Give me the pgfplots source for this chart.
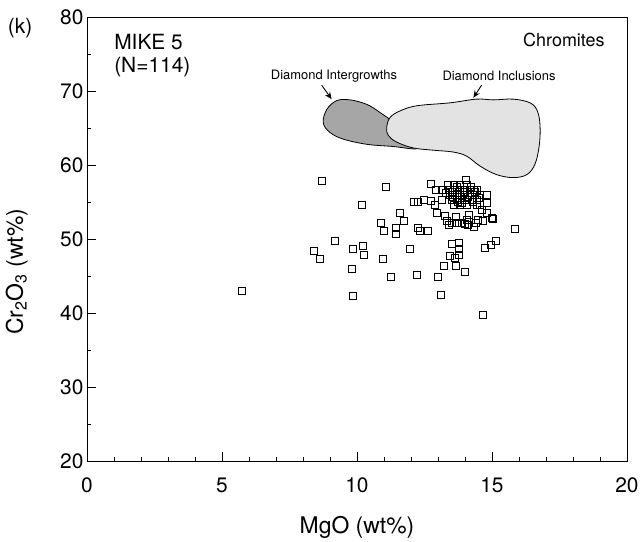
\documentclass[border=0pt]{standalone}
\usepackage{pgfplots}
\pgfplotsset{compat=1.18}
\usepackage{fontspec}
\setmainfont{TeX Gyre Heros}
\usetikzlibrary{arrows.meta}

\pgfplotstableread{
x y
5.72 43.0
8.70 57.8
10.17 54.6
9.19 49.7
8.41 48.4
8.62 47.3
9.86 48.7
10.21 49.1
10.27 47.9
9.80 45.9
9.83 42.3
11.06 57.0
12.73 57.4
12.91 56.6
12.09 55.0
12.24 55.0
12.46 55.3
12.74 55.2
12.89 54.6
11.57 53.5
11.74 52.5
10.89 52.2
10.98 51.1
11.44 51.5
11.44 50.7
12.24 51.5
12.33 51.1
12.64 51.1
15.83 51.4
14.74 48.8
14.96 49.2
15.15 49.8
11.94 48.7
10.95 47.3
13.51 49.4
13.79 49.5
13.79 48.7
13.79 47.9
13.63 47.4
13.44 47.7
13.22 46.4
13.67 46.4
14.00 45.5
11.26 44.9
12.23 45.2
13.01 44.9
13.11 42.5
14.68 39.7
13.26 53.1
13.32 52.4
13.51 52.2
13.69 52.2
13.88 52.2
14.06 52.6
14.12 51.95
14.31 51.7
14.49 52.6
14.80 53.5
15.05 52.7
14.62 54.0
14.80 54.9
14.99 52.9
14.68 52.4
14.02 58.05
13.38 57.37
13.57 57.37
13.81 57.37
14.06 57.37
13.44 56.69
13.63 56.69
13.81 56.69
14.00 56.69
14.19 56.69
14.31 56.69
14.43 56.69
13.44 56.02
13.63 56.02
13.81 56.02
14.00 56.02
14.19 56.02
14.37 56.02
14.56 56.02
14.80 56.02
13.51 55.34
13.69 55.34
13.88 55.34
14.06 55.34
14.25 55.34
14.43 55.34
13.57 54.66
13.81 54.66
14.06 54.66
14.43 54.66
14.56 54.66
13.14 56.7
13.14 55.3
13.70 57.0
13.95 56.35
14.10 55.7
13.55 55.7
14.30 55.0
13.90 54.9
14.50 55.6
14.20 57.1
13.30 56.3
13.75 55.0
14.35 56.4
13.50 56.35
13.65 53.0
14.15 53.3
14.00 52.0
13.40 51.9
14.40 52.2
12.95 53.5
}\mikefive

\begin{document}
\begin{tikzpicture}
\begin{axis}[
  scale only axis, width=540bp, height=444bp,
  xmin=0, xmax=20, ymin=20, ymax=80,
  xtick={0,5,10,15,20}, minor x tick num=4,
  ytick={20,30,...,80}, minor y tick num=1,
  tick align=inside, xtick pos=bottom, ytick pos=left,
  major tick length=9bp, minor tick length=4bp,
  tick style={black, line width=0.6bp},
  axis line style={line width=0.8bp},
  /pgf/number format/assume math mode=true,
  ticklabel style={font=\fontsize{21}{21}\selectfont},
  xticklabel style={yshift=-13bp},
  xlabel={MgO (wt\%)}, ylabel={Cr\textsubscript{2}O\textsubscript{3} (wt\%)},
  label style={font=\fontsize{23}{23}\selectfont},
  xlabel style={at={(axis description cs:0.5,-0.149)}, anchor=center},
  ylabel style={at={(axis description cs:-0.13,0.426)}, anchor=center},
  clip=false,
]
% Diamond Intergrowths field
\addplot[smooth cycle, tension=0.6, draw=black, line width=0.8bp, fill=black!35] coordinates {
 (8.75,65.7) (8.88,67.5) (9.25,68.7) (9.74,68.8) (10.36,68.2) (10.85,67.1)
 (11.4,65.6) (11.95,63.3) (12.2,62.2) (11.34,62.5) (10.36,62.8) (9.49,63.5) (9.0,64.4)};
% Diamond Inclusions field
\addplot[smooth cycle, tension=0.6, draw=black, line width=0.8bp, fill=black!11] coordinates {
 (11.10,65.05) (11.22,66.4) (11.59,67.3) (12.21,68.0) (13.44,68.4) (14.43,68.9)
 (15.05,68.8) (15.79,68.9) (16.41,68.4) (16.68,67.3) (16.78,65.3) (16.75,62.6)
 (16.59,60.1) (16.29,58.7) (15.79,58.3) (15.17,58.7) (14.56,59.85) (14.06,61.2)
 (13.57,61.75) (12.83,62.0) (12.09,62.3) (11.47,63.1) (11.16,64.0)};
% arrows
\addplot[black, line width=0.9bp, -{Stealth[length=7bp,width=6bp]}] coordinates {(8.69,70.8) (9.06,68.9)};
\addplot[black, line width=0.9bp, -{Stealth[length=7bp,width=6bp]}] coordinates {(14.62,70.8) (14.31,69.1)};
% data
\addplot[only marks, mark=square, draw=black, mark size=3.5bp, mark options={line width=0.7bp, fill=none}] table[x=x,y=y] {\mikefive};

\node[font=\fontsize{13}{13}\selectfont] at (axis cs:9.15,72.05) {Diamond Intergrowths};
\node[font=\fontsize{13}{13}\selectfont] at (axis cs:15.26,72.05) {Diamond Inclusions};
\node[font=\fontsize{18}{18}\selectfont, anchor=east] at (axis cs:19.3,76.9) {Chromites};
\node[font=\fontsize{21}{21}\selectfont, anchor=west] at (axis cs:0.88,76.6) {MIKE 5};
\node[font=\fontsize{21}{21}\selectfont, anchor=west] at (axis cs:0.88,73.2) {(N=114)};
\node[font=\fontsize{21}{21}\selectfont] at (axis description cs:-0.124,0.975) {(k)};
\coordinate (bbl) at (axis description cs:-0.1611,-0.1824);
\coordinate (btr) at (axis description cs:1.0278,1.0383);
\end{axis}
\pgfresetboundingbox
\path[use as bounding box] (bbl) rectangle (btr);
\end{tikzpicture}
\end{document}
